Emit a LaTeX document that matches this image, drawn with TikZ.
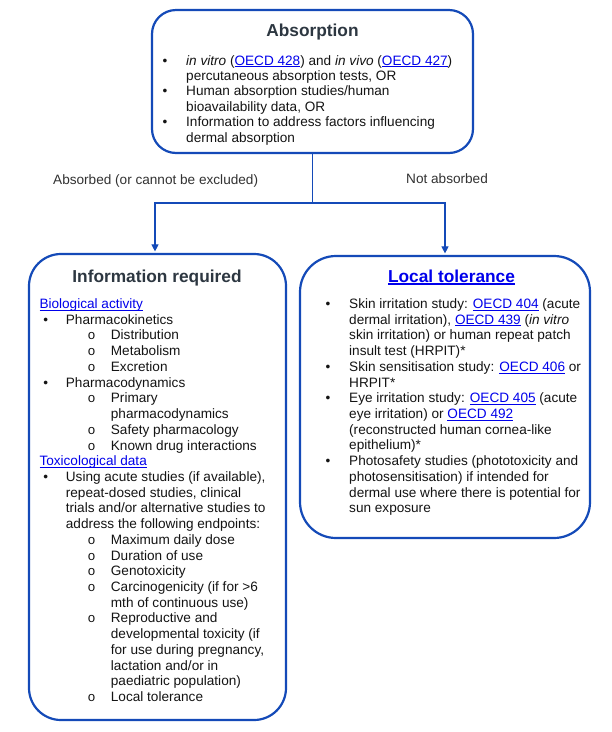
\documentclass[tikz,border=0pt]{standalone}
\usepackage{fontspec}
\setmainfont{Liberation Sans}
\newfontfamily\monofnt{Liberation Mono}
\usetikzlibrary{arrows.meta}
\definecolor{boxblue}{RGB}{20,74,184}
\definecolor{linkblue}{RGB}{0,0,235}
\definecolor{titlegray}{RGB}{45,55,65}
\definecolor{bodyblack}{RGB}{20,20,20}
\definecolor{labelgray}{RGB}{50,50,50}
\newcommand\lnk[1]{{\color{linkblue}\setbox0\hbox{#1}\rlap{\rule[-2pt]{\wd0}{0.8pt}}\box0}}
\newcommand\bodyfnt{\fontsize{13.6}{15.72}\selectfont}
\newcommand\absfnt{\fontsize{13.6}{15.4}\selectfont}
\newcommand\titlefnt{\fontsize{17.3}{20}\selectfont\bfseries}
\newcommand\ml[1]{\begin{tabular}[t]{@{}l@{}}#1\end{tabular}}
\tikzset{
  roundbox/.style={draw=boxblue, line width=2.2pt, inner sep=0pt},
  txt/.style={anchor=base west, inner sep=0pt, font=\bodyfnt, text=bodyblack},
  abstxt/.style={txt, font=\absfnt},
  bul/.style={anchor=base, inner sep=0pt, font=\bodyfnt, text=bodyblack},
  subbul/.style={anchor=base, inner sep=0pt, font=\monofnt\fontsize{13.2}{15}\selectfont, text=bodyblack},
  ttl/.style={anchor=base, inner sep=0pt, font=\titlefnt, text=titlegray},
  lbl/.style={anchor=base west, inner sep=0pt, font=\bodyfnt, text=labelgray},
  conn/.style={draw=boxblue, line width=1.1pt},
  arr/.style={conn, -{Triangle[width=7pt,length=7pt]}}
}
\newcommand\bitem[5]{\node[bul] (#1-m) at (#2,#4) {•}; \node[txt] (#1) at (#3,#4) {\ml{#5}};}
\newcommand\aitem[5]{\node[bul] (#1-m) at (#2,#4) {•}; \node[abstxt] (#1) at (#3,#4) {\ml{#5}};}
\newcommand\oitem[5]{\node[subbul] (#1-m) at (#2,#4) {o}; \node[txt] (#1) at (#3,#4) {\ml{#5}};}
\begin{document}
\begin{tikzpicture}[x=1pt,y=-1pt]
\useasboundingbox[fill=white] (0,0) rectangle (612,732);

% boxes
\node[roundbox, rounded corners=24pt, minimum width=321pt, minimum height=143pt] (abs) at (312.5,81.5) {};
\node[roundbox, rounded corners=32pt, minimum width=257pt, minimum height=466pt] (info) at (157.5,487) {};
\node[roundbox, rounded corners=36pt, minimum width=290pt, minimum height=282pt] (loc) at (445,397) {};

% absorption content
\node[ttl] (absT) at (312.5,36) {Absorption};
\aitem{a1}{165}{186}{65}{\textit{in vitro} (\lnk{OECD 428}) and \textit{in vivo} (\lnk{OECD 427})\\percutaneous absorption tests, OR}
\aitem{a2}{165}{186}{95.8}{Human absorption studies/human\\bioavailability data, OR}
\aitem{a3}{165}{186}{126.6}{Information to address factors influencing\\dermal absorption}

% connectors
\coordinate (split) at (312.5,203);
\draw[conn] (abs.south) -- (split);
\draw[arr] (split) -| ([xshift=-2.5pt,yshift=1.5pt]info.north);
\draw[arr] (split) -| ([yshift=1.5pt]loc.north);
\node[lbl] (l1) at (53,184.5) {Absorbed (or cannot be excluded)};
\node[lbl] (l2) at (406,183.5) {Not absorbed};

% information required
\node[ttl] (infoT) at (157,282) {Information required};
\node[txt] (bio) at (39.3,308.5) {\lnk{Biological activity}};
\bitem{i1}{45.7}{65.7}{324.2}{Pharmacokinetics}
\oitem{i2}{91.7}{110.7}{339.9}{Distribution}
\oitem{i3}{91.7}{110.7}{355.7}{Metabolism}
\oitem{i4}{91.7}{110.7}{371.4}{Excretion}
\bitem{i5}{45.7}{65.7}{387.1}{Pharmacodynamics}
\oitem{i6}{91.7}{110.7}{402.8}{Primary\\pharmacodynamics}
\oitem{i7}{91.7}{110.7}{434.3}{Safety pharmacology}
\oitem{i8}{91.7}{110.7}{450.0}{Known drug interactions}
\node[txt] (tox) at (39.3,465.7) {\lnk{Toxicological data}};
\bitem{i9}{45.7}{65.7}{481.4}{Using acute studies (if available),\\repeat-dosed studies, clinical\\trials and/or alternative studies to\\address the following endpoints:}
\oitem{i10}{91.7}{110.7}{544.3}{Maximum daily dose}
\oitem{i11}{91.7}{110.7}{560.0}{Duration of use}
\oitem{i12}{91.7}{110.7}{575.7}{Genotoxicity}
\oitem{i13}{91.7}{110.7}{591.5}{Carcinogenicity (if for >6\\mth of continuous use)}
\oitem{i14}{91.7}{110.7}{622.9}{Reproductive and\\developmental toxicity (if\\for use during pregnancy,\\lactation and/or in\\paediatric population)}
\oitem{i15}{91.7}{110.7}{701.5}{Local tolerance}

% local tolerance
\node[ttl, text=linkblue] (locT) at (451.5,282) {\setbox0\hbox{Local tolerance}\rlap{\rule[-2.6pt]{\wd0}{1.2pt}}\box0};
\bitem{r1}{328}{349}{308.5}{Skin irritation study: \lnk{OECD 404} (acute\\dermal irritation), \lnk{OECD 439} (\textit{in vitro}\\skin irritation) or human repeat patch\\insult test (HRPIT)*}
\bitem{r2}{328}{349}{371.4}{Skin sensitisation study: \lnk{OECD 406} or\\HRPIT*}
\bitem{r3}{328}{349}{402.8}{Eye irritation study: \lnk{OECD 405} (acute\\eye irritation) or \lnk{OECD 492}\\(reconstructed human cornea-like\\epithelium)*}
\bitem{r4}{328}{349}{465.7}{Photosafety studies (phototoxicity and\\photosensitisation) if intended for\\dermal use where there is potential for\\sun exposure}
\end{tikzpicture}
\end{document}
